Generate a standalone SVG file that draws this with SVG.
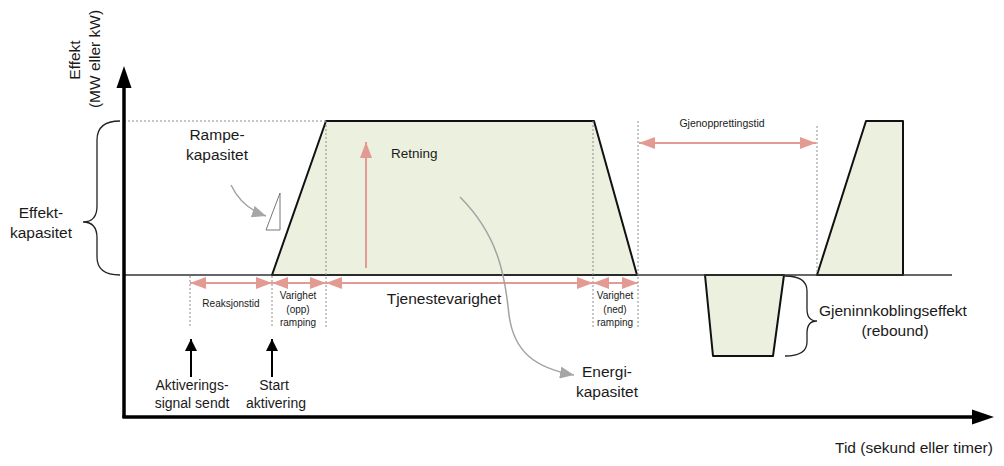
<svg xmlns="http://www.w3.org/2000/svg" width="1004" height="466" viewBox="0 0 1004 466">
<style>
text{font-family:"Liberation Sans",Arial,sans-serif;fill:#1a1a1a}
.m{font-size:15.5px}
.a{font-size:14px}
.s{font-size:10px}
.dot{stroke:#8c8c8c;stroke-width:1;stroke-dasharray:2,2;fill:none}
.pink{stroke:#E39A93;stroke-width:2;fill:none}
.area{fill:#EBF1DE;stroke:#111;stroke-width:2;stroke-linejoin:round}
.grey{stroke:#a3a3a3;stroke-width:1.5;fill:none}
.brace{stroke:#222;stroke-width:1.3;fill:none}
</style>
<defs>
<marker id="pa" viewBox="0 0 16 12" refX="16" refY="6" markerWidth="16" markerHeight="12" markerUnits="userSpaceOnUse" orient="auto-start-reverse"><path d="M0,0 L16,6 L0,12 Z" fill="#E39A93"/></marker>
<marker id="ba" viewBox="0 0 12 12" refX="12" refY="6" markerWidth="12" markerHeight="12" markerUnits="userSpaceOnUse" orient="auto"><path d="M0,0 L12,6 L0,12 Z" fill="#000"/></marker>
<marker id="ga" viewBox="0 0 14 12" refX="14" refY="6" markerWidth="14" markerHeight="12" markerUnits="userSpaceOnUse" orient="auto"><path d="M0,0 L14,6 L0,12 Z" fill="#a6a6a6"/></marker>
</defs>

<g id="areas">
<polygon class="area" points="272,275 326,121 594,121 637,275"/>
<polygon class="area" points="817,275 866,121 903,121 903,275"/>
<polygon class="area" points="705,275 784,275 773,356 713,356"/>
</g>
<line id="baseline" x1="124" y1="275" x2="952" y2="275" stroke="#333" stroke-width="1.5"/>

<g id="guides">
<line class="dot" x1="124" y1="121" x2="326" y2="121"/>
<line class="dot" x1="190" y1="276" x2="190" y2="328"/>
<line class="dot" x1="272" y1="276" x2="272" y2="328"/>
<line class="dot" x1="326" y1="121" x2="326" y2="328"/>
<line class="dot" x1="593" y1="121" x2="593" y2="328"/>
<line class="dot" x1="638" y1="121" x2="638" y2="328"/>
<line class="dot" x1="817" y1="126" x2="817" y2="274"/>
</g>

<g id="axes">
<line x1="124" y1="86" x2="124" y2="418" stroke="#000" stroke-width="3.5"/>
<polygon points="124,66 116.5,88 131.5,88" fill="#000"/>
<line x1="122.5" y1="417" x2="974" y2="417" stroke="#000" stroke-width="3.5"/>
<polygon points="994,417 972,409.5 972,424.5" fill="#000"/>
<text class="m" transform="translate(80,60) rotate(-90)" text-anchor="middle">Effekt</text>
<text class="m" transform="translate(100,59) rotate(-90)" text-anchor="middle">(MW eller kW)</text>
<text class="m" x="914" y="453" text-anchor="middle">Tid (sekund eller timer)</text>
</g>

<g id="connectors">
<line class="pink" x1="190" y1="283" x2="272" y2="283" marker-start="url(#pa)" marker-end="url(#pa)"/>
<line class="pink" x1="272" y1="283" x2="326" y2="283" marker-start="url(#pa)" marker-end="url(#pa)"/>
<line class="pink" x1="326" y1="283" x2="593" y2="283" marker-start="url(#pa)" marker-end="url(#pa)"/>
<line class="pink" x1="593" y1="283" x2="638" y2="283" marker-start="url(#pa)" marker-end="url(#pa)"/>
<line class="pink" x1="639" y1="143" x2="816" y2="143" marker-start="url(#pa)" marker-end="url(#pa)"/>
<line class="pink" x1="366" y1="268" x2="366" y2="142" marker-end="url(#pa)"/>
<line x1="191" y1="377" x2="191" y2="339" stroke="#000" stroke-width="2" marker-end="url(#ba)"/>
<line x1="272" y1="377" x2="272" y2="339" stroke="#000" stroke-width="2" marker-end="url(#ba)"/>
<path class="grey" d="M231,185 Q242,208 266,216" marker-end="url(#ga)"/>
<path class="grey" d="M460,197 C498,235 505,275 509,315 C514,352 535,368 574,375" marker-end="url(#ga)"/>
</g>

<g id="ramp-triangle">
<polygon points="266,230 280,193 280,230" fill="#fff" stroke="#777" stroke-width="1"/>
</g>

<g id="braces">
<path class="brace" d="M120,121 Q97,121 97,140 L97,206 Q97,222 83,222 Q97,222 97,238 L97,257 Q97,275 120,275"/>
<path class="brace" d="M785,276 Q807,276 807,291 L807,309 Q807,321 817,321 Q807,321 807,333 L807,342 Q807,356 785,356"/>
</g>

<g id="labels">
<text class="m" x="41" y="218" text-anchor="middle">Effekt-</text>
<text class="m" x="41" y="238" text-anchor="middle">kapasitet</text>
<text class="m" x="217" y="140" text-anchor="middle">Rampe-</text>
<text class="m" x="217" y="160" text-anchor="middle">kapasitet</text>
<text x="391" y="158" font-size="13.5px">Retning</text>
<text x="722" y="127" text-anchor="middle" font-size="10.5px">Gjenopprettingstid</text>
<text class="s" x="231" y="306.5" text-anchor="middle">Reaksjonstid</text>
<text class="s" x="298" y="299" text-anchor="middle">Varighet</text>
<text class="s" x="298" y="313" text-anchor="middle">(opp)</text>
<text class="s" x="298" y="326" text-anchor="middle">ramping</text>
<text class="s" x="615" y="299" text-anchor="middle">Varighet</text>
<text class="s" x="615" y="313" text-anchor="middle">(ned)</text>
<text class="s" x="615" y="326" text-anchor="middle">ramping</text>
<text class="m" x="444" y="304" text-anchor="middle">Tjenestevarighet</text>
<text class="a" x="192" y="390" text-anchor="middle">Aktiverings-</text>
<text class="a" x="192" y="408" text-anchor="middle">signal sendt</text>
<text class="a" x="274" y="390" text-anchor="middle">Start</text>
<text class="a" x="276" y="408" text-anchor="middle">aktivering</text>
<text class="m" x="607" y="377" text-anchor="middle">Energi-</text>
<text class="m" x="607" y="397" text-anchor="middle">kapasitet</text>
<text class="m" x="819" y="316">Gjeninnkoblingseffekt</text>
<text class="m" x="895" y="336" text-anchor="middle">(rebound)</text>
</g>
</svg>
